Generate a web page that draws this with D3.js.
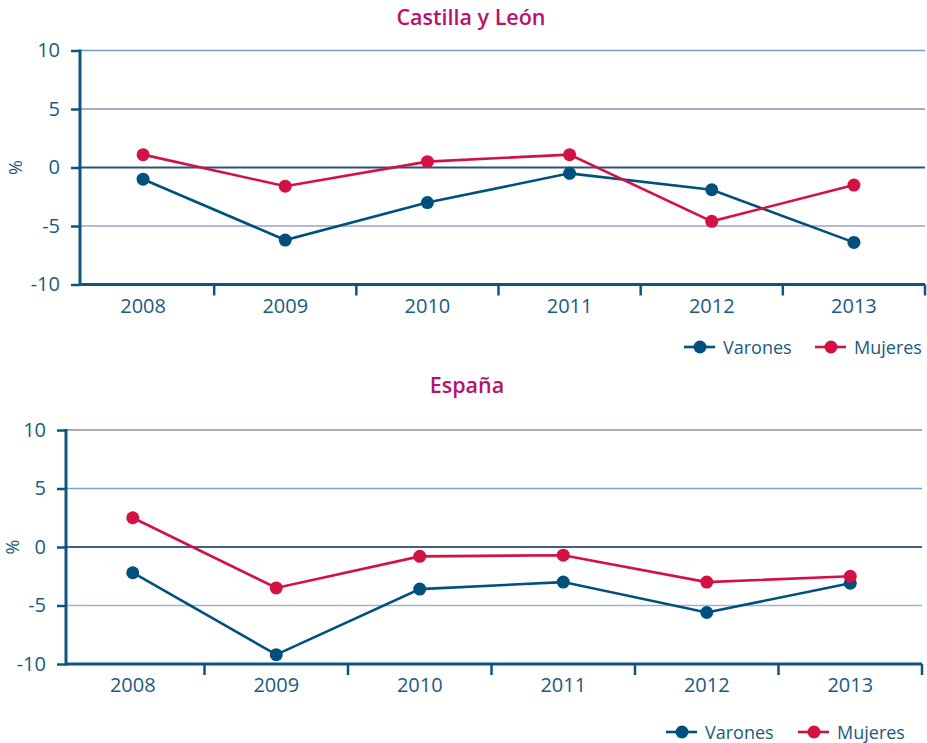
<!DOCTYPE html>
<html>
<head>
<meta charset="utf-8">
<script src="https://cdn.jsdelivr.net/npm/d3@7"></script>
<style>
  body { margin: 0; background: #fff; }
  svg { display: block; font-family: "Open Sans", "Noto Sans", sans-serif; }
</style>
</head>
<body>
<svg id="chart" width="927" height="743"></svg>
<script>
// data
var years = ["2008", "2009", "2010", "2011", "2012", "2013"];
var yTicks = [10, 5, 0, -5, -10];
var seriesNames = ["Varones", "Mujeres"];

var cylVarones = [-1.0, -6.2, -3.0, -0.5, -1.9, -6.4];
var cylMujeres = [1.1, -1.6, 0.5, 1.1, -4.6, -1.5];

var espVarones = [-2.2, -9.2, -3.6, -3.0, -5.6, -3.1];
var espMujeres = [2.5, -3.5, -0.8, -0.7, -3.0, -2.5];

var colors = { Varones: "#00507e", Mujeres: "#d31145" };
var axisColor = "#0f547e";
var textColor = "#1b5a82";

var svg = d3.select("#chart");

var drawPanel = function(opts) {
    var g = svg.append("g");

    var x = d3.scaleBand()
        .domain(years)
        .range([opts.bandLeft, opts.right]);

    var y = d3.scaleLinear()
        .domain([-10, 10])
        .range([opts.bottom, opts.top]);

    // title
    g.append("text")
        .attr("x", opts.titleX)
        .attr("y", opts.titleY)
        .attr("text-anchor", "middle")
        .attr("fill", "#b8116f")
        .attr("font-size", 21.5)
        .attr("font-weight", 600)
        .text(opts.title);

    // gridlines
    g.selectAll("line.grid")
        .data(yTicks.filter(function(d) { return d !== -10; }))
        .enter().append("line")
            .attr("class", "grid")
            .attr("x1", opts.axisX)
            .attr("x2", opts.right)
            .attr("y1", function(d) { return y(d); })
            .attr("y2", function(d) { return y(d); })
            .attr("stroke", function(d, i) { return opts.gridColors[i]; })
            .attr("stroke-width", function(d) { return d === 0 ? 2 : 1.6; });

    // y axis
    var yAxis = g.append("g")
        .attr("transform", "translate(" + opts.axisX + ",0)")
        .call(d3.axisLeft(y).tickValues(yTicks).tickSize(9).tickPadding(11)
            .tickFormat(function(d) { return d; }));
    yAxis.select(".domain").remove();
    yAxis.selectAll(".tick line").attr("stroke", axisColor).attr("stroke-width", 2.5);
    yAxis.selectAll(".tick text")
        .attr("fill", textColor)
        .attr("font-size", 20)
        .attr("font-family", "Open Sans, sans-serif");
    g.append("line")
        .attr("x1", opts.axisX).attr("x2", opts.axisX)
        .attr("y1", opts.top - 1).attr("y2", opts.bottom + 1.5)
        .attr("stroke", axisColor).attr("stroke-width", 3);

    // x axis line and separating ticks
    g.append("line")
        .attr("x1", opts.axisX).attr("x2", opts.right)
        .attr("y1", opts.bottom).attr("y2", opts.bottom)
        .attr("stroke", axisColor).attr("stroke-width", 3);
    g.selectAll("line.xtick")
        .data(years)
        .enter().append("line")
            .attr("class", "xtick")
            .attr("x1", function(d) { return x(d) + x.bandwidth(); })
            .attr("x2", function(d) { return x(d) + x.bandwidth(); })
            .attr("y1", opts.bottom)
            .attr("y2", opts.bottom + 11)
            .attr("stroke", axisColor)
            .attr("stroke-width", 2.5);
    g.selectAll("text.xlabel")
        .data(years)
        .enter().append("text")
            .attr("class", "xlabel")
            .attr("x", function(d) { return x(d) + x.bandwidth() / 2; })
            .attr("y", opts.bottom + 28)
            .attr("text-anchor", "middle")
            .attr("fill", textColor)
            .attr("font-size", 20)
            .text(function(d) { return d; });

    // "%" label
    g.append("text")
        .attr("transform", "translate(" + opts.pctX + "," + y(0) + ") rotate(-90)")
        .attr("text-anchor", "middle")
        .attr("fill", textColor)
        .attr("font-size", 18)
        .text("%");

    // series
    var line = d3.line()
        .x(function(d, i) { return x(years[i]) + x.bandwidth() / 2; })
        .y(function(d) { return y(d); });

    opts.series.forEach(function(s) {
        g.append("path")
            .datum(s.values)
            .attr("fill", "none")
            .attr("stroke", colors[s.name])
            .attr("stroke-width", 2.6)
            .attr("d", line);
        g.selectAll(null)
            .data(s.values)
            .enter().append("circle")
                .attr("cx", function(d, i) { return x(years[i]) + x.bandwidth() / 2; })
                .attr("cy", function(d) { return y(d); })
                .attr("r", 6.5)
                .attr("fill", colors[s.name]);
    });

    // legend
    var lg = g.append("g").attr("transform", "translate(0," + opts.legendY + ")");
    seriesNames.forEach(function(name, i) {
        var lx = opts.legendX[i];
        lg.append("line")
            .attr("x1", lx).attr("x2", lx + 31)
            .attr("y1", 0).attr("y2", 0)
            .attr("stroke", colors[name]).attr("stroke-width", 2.6);
        lg.append("circle")
            .attr("cx", lx + 16).attr("cy", 0).attr("r", 6.5)
            .attr("fill", colors[name]);
        lg.append("text")
            .attr("x", lx + 39)
            .attr("y", 6.5)
            .attr("fill", textColor)
            .attr("font-size", 18)
            .text(name);
    });
};

drawPanel({
    title: "Castilla y León",
    titleX: 471, titleY: 25,
    axisX: 80, bandLeft: 72, right: 925,
    top: 50.5, bottom: 284.5,
    pctX: 22,
    gridColors: ["#6f9fcb", "#8c8fae", "#2d5278", "#9aa5c2"],
    series: [
        { name: "Varones", values: cylVarones },
        { name: "Mujeres", values: cylMujeres }
    ],
    legendY: 347,
    legendX: [684, 815]
});

drawPanel({
    title: "España",
    titleX: 467, titleY: 393,
    axisX: 66, bandLeft: 61, right: 922,
    top: 430, bottom: 664,
    pctX: 19,
    gridColors: ["#8c8fae", "#7aa3cc", "#445d80", "#9fb3cf"],
    series: [
        { name: "Varones", values: espVarones },
        { name: "Mujeres", values: espMujeres }
    ],
    legendY: 732,
    legendX: [666, 798]
});
</script>
</body>
</html>
